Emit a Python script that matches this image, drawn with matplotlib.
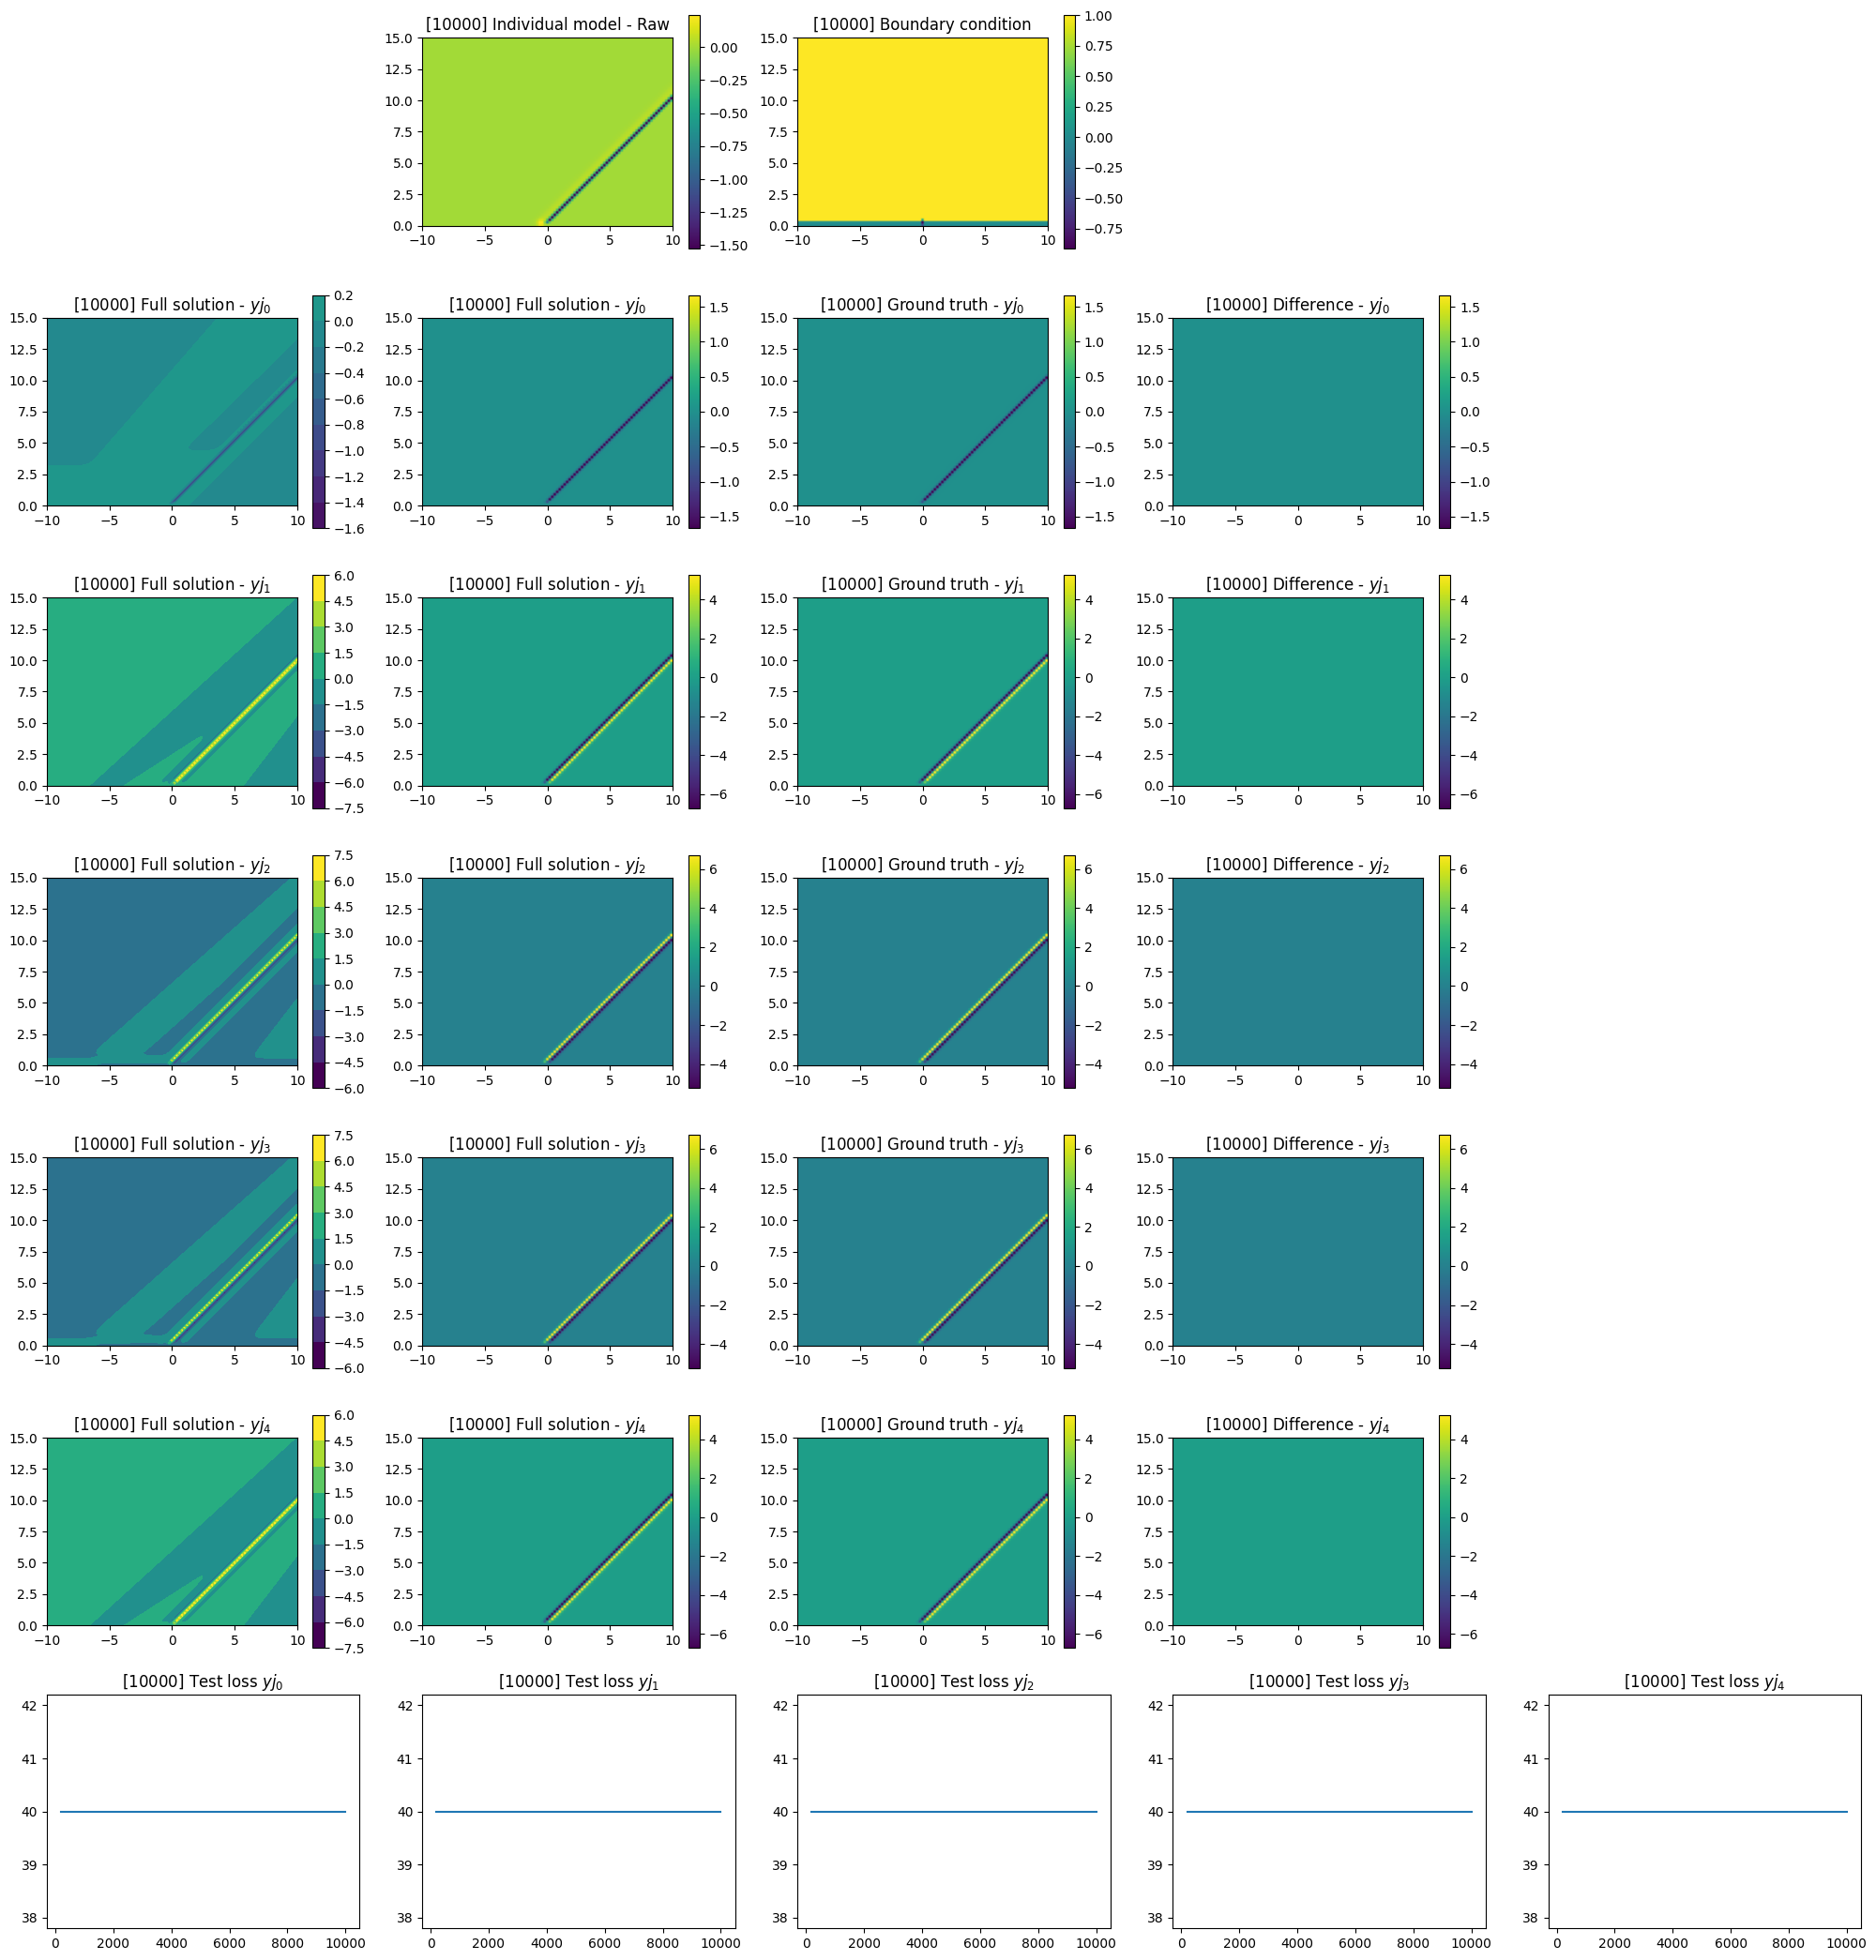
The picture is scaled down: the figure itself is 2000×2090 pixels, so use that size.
import numpy as np
import matplotlib
matplotlib.use("Agg")
import matplotlib.pyplot as plt

STEP = 10000
N_X, N_T = 101, 76            # solver grid (dx = dt = 0.2)
COMPONENTS = ["0", "1", "2", "3", "4"]

# colour range of each component (ground truth min / max)
gt_vmin = [-1.667, -6.74, -5.24, -5.24, -6.74]
gt_vmax = [1.667, 5.25, 6.72, 6.72, 5.25]

# travelling front of the ground truth: (amplitude, offset in x - t, width)
gt_lobes = [
    [(-1.667, -0.2, 0.16)],
    [(-6.74, -0.4, 0.16), (5.25, 0.0, 0.16)],
    [(6.72, -0.4, 0.16), (-5.24, 0.0, 0.16)],
    [(6.72, -0.4, 0.16), (-5.24, 0.0, 0.16)],
    [(-6.74, -0.4, 0.16), (5.25, 0.0, 0.16)],
]

# full solution (contour plots, first column)
full_levels = [
    [-1.6, -1.4, -1.2, -1.0, -0.8, -0.6, -0.4, -0.2, 0.0, 0.2],
    [-7.5, -6.0, -4.5, -3.0, -1.5, 0.0, 1.5, 3.0, 4.5, 6.0],
    [-6.0, -4.5, -3.0, -1.5, 0.0, 1.5, 3.0, 4.5, 6.0, 7.5],
    [-6.0, -4.5, -3.0, -1.5, 0.0, 1.5, 3.0, 4.5, 6.0, 7.5],
    [-7.5, -6.0, -4.5, -3.0, -1.5, 0.0, 1.5, 3.0, 4.5, 6.0],
]
full_bg = [0.1, 0.75, -0.75, -0.75, 0.75]
full_alt = [-0.1, -0.75, 0.75, 0.75, -0.75]
# regions holding the alternate value:
# (u_lo, u_lo slope, u_hi, u_hi slope, u_hi cap, t_start, t_end)
bands_a = [(-40, 0, -9.4, -0.13, 40, 3.2, 40), (-3.6, 0.02, -0.8, 0, 40, 4.4, 40),
           (1.3, 0, 40, 0, 40, -5, 40)]
bands_b = [(-6.6, 0.1, -3.8, 0.55, -1.0, -5, 40), (5.7, -0.23, 40, 0, 40, -5, 40)]
bands_c = [(-7.4, 0.13, -3.4, 0.12, -2.6, 0.9, 40), (-40, 0, -6.3, 0, 40, -5, 0.55),
           (-6.3, 0, -1.2, 0, 40, 0.2, 0.8), (5.9, -0.23, 40, 0, 40, 0.6, 40)]
full_bands = [bands_a, bands_b, bands_c, bands_c, bands_b]
full_lobes = [
    [(-1.55, -0.2, 0.18)],
    [(-1.4, -1.0, 0.35), (-4.0, -0.4, 0.15), (5.0, 0.0, 0.15), (-1.4, 0.6, 0.35)],
    [(1.4, -1.0, 0.35), (6.9, -0.4, 0.15), (-4.2, 0.0, 0.15), (1.4, 0.6, 0.35)],
    [(1.4, -1.0, 0.35), (6.9, -0.4, 0.15), (-4.2, 0.0, 0.15), (1.4, 0.6, 0.35)],
    [(-1.4, -1.0, 0.35), (-4.0, -0.4, 0.15), (5.0, 0.0, 0.15), (-1.4, 0.6, 0.35)],
]

# individual model (raw output) and boundary condition
raw_range = (-1.524, 0.242)
raw_lobes = [(-1.524, -0.2, 0.16), (0.06, -0.8, 0.4)]
raw_bump = (0.242, -0.5, 0.1, 0.3)       # value, x, t, radius
bc_range = (-0.914, 1.0)
bc_rows = [0.0, 0.05, 1.0]               # t = 0, 0.2, 0.4 ; 1.0 above
bc_dip = [-0.5, -0.914, 0.3]             # at x = 0 for the same rows

# test loss history
loss_steps = np.arange(200, 10001, 200)
test_loss_value = [40.0, 40.0, 40.0, 40.0, 40.0]


def step(z, w):
    return 0.5 * (1.0 + np.tanh(z / w))


def front(u, t, lobes):
    f = np.zeros_like(u)
    for amp, off, width in lobes:
        f += amp * np.exp(-((u - off) / width) ** 2)
    return f * step(t - 0.2, 0.12)


def regions(u, t, bands):
    m = np.zeros_like(u)
    for lo0, lo_s, hi0, hi_s, cap, t0, t1 in bands:
        hi = np.minimum(hi0 + hi_s * t, cap)
        m += (step(u - (lo0 + lo_s * t), 0.4) * step(hi - u, 0.4)
              * step(t - t0, 0.35) * step(t1 - t, 0.2))
    return np.clip(m, 0, 1)


x = np.linspace(-10, 10, N_X)
t = np.linspace(0, 15, N_T)
X, T = np.meshgrid(x, t)
U = X - T
EXT = [-10, 10, 0, 15]

fig, axes = plt.subplots(7, 5, figsize=(20, 20.9))
fig.subplots_adjust(left=0.025, right=0.992, bottom=0.0163, top=0.9923,
                    wspace=0.2, hspace=0.2)

for ax in [axes[0, 0], axes[0, 3], axes[0, 4]] + [axes[r, 4] for r in range(1, 6)]:
    ax.axis("off")

# row 0: raw model + boundary condition
raw = front(U, T, raw_lobes)
v, bx, bt, br = raw_bump
raw = raw + v * np.exp(-((X - bx) ** 2 + (T - bt) ** 2) / br ** 2)
ax = axes[0, 1]
im = ax.imshow(raw, origin="lower", extent=EXT, cmap="viridis",
               vmin=raw_range[0], vmax=raw_range[1])
fig.colorbar(im, ax=ax)
ax.set_title(f"[{STEP}] Individual model - Raw")

bc = np.ones((N_T, N_X))
i0 = np.argmin(np.abs(x))
for r, (val, dip) in enumerate(zip(bc_rows, bc_dip)):
    bc[r, :] = val
    bc[r, i0] = dip
ax = axes[0, 2]
im = ax.imshow(bc, origin="lower", extent=EXT, cmap="viridis",
               vmin=bc_range[0], vmax=bc_range[1])
fig.colorbar(im, ax=ax)
ax.set_title(f"[{STEP}] Boundary condition")

# rows 1-5: components
for k, comp in enumerate(COMPONENTS):
    row = k + 1
    lab = f"$yj_{comp}$"
    vmin, vmax = gt_vmin[k], gt_vmax[k]
    lev = full_levels[k]

    full = (full_bg[k] + (full_alt[k] - full_bg[k]) * regions(U, T, full_bands[k])
            + front(U, T, full_lobes[k]))
    full = np.clip(full, lev[0] + 1e-6, lev[-1] - 1e-6)
    ax = axes[row, 0]
    cs = ax.contourf(X, T, full, levels=lev, cmap="viridis", vmin=vmin, vmax=vmax)
    ax.set_aspect("equal")
    fig.colorbar(cs, ax=ax)
    ax.set_title(f"[{STEP}] Full solution - {lab}")

    gt = front(U, T, gt_lobes[k])
    pred = gt.copy()
    diff = gt - pred
    for col, data, name in [(1, pred, "Full solution"), (2, gt, "Ground truth"),
                            (3, diff, "Difference")]:
        ax = axes[row, col]
        im = ax.imshow(data, origin="lower", extent=EXT, cmap="viridis",
                       vmin=vmin, vmax=vmax)
        fig.colorbar(im, ax=ax)
        ax.set_title(f"[{STEP}] {name} - {lab}")

# row 6: test loss
for k, comp in enumerate(COMPONENTS):
    ax = axes[6, k]
    ax.plot(loss_steps, [test_loss_value[k]] * len(loss_steps))
    ax.set_title(f"[{STEP}] Test loss $yj_{comp}$")

fig.savefig("out.png", dpi=100)
